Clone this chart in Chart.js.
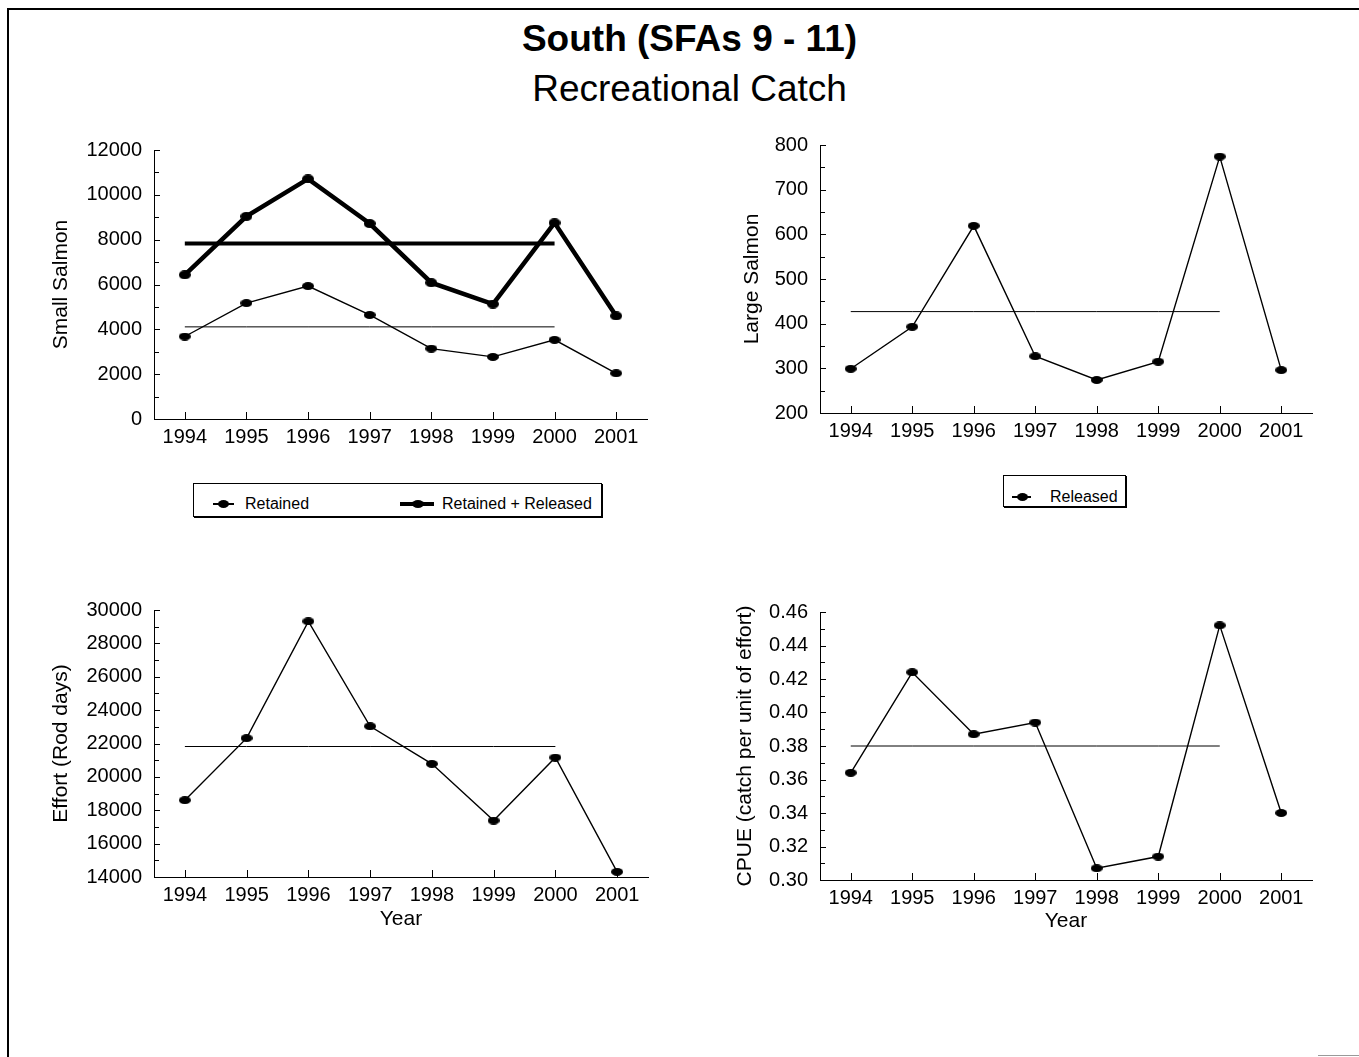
<!DOCTYPE html>
<html>
<head>
<meta charset="utf-8">
<title>South (SFAs 9 - 11) Recreational Catch</title>
<script src="https://cdn.jsdelivr.net/npm/chart.js@4.4.1/dist/chart.umd.min.js"></script>
<style>
  html, body { margin: 0; padding: 0; background: #fff; }
  body { width: 1359px; height: 1057px; position: relative; overflow: hidden;
         font-family: "Liberation Sans", Arial, sans-serif; color: #000; }
  .frame { position: absolute; left: 7px; top: 8px; right: -4px; bottom: -4px;
           border-left: 2px solid #000; border-top: 2px solid #000; }
  .corner { position: absolute; left: 1318px; top: 1055px; width: 41px; height: 1px; background: #999; }
  .head { position: absolute; left: 0; width: 1379px; text-align: center; font-size: 37px; line-height: 37px; white-space: nowrap; }
  .head.main { top: 20px; font-weight: bold; }
  .head.sub { top: 70px; }
  .panel { position: absolute; }
  .legend { position: absolute; box-sizing: border-box; border: 1px solid #000; box-shadow: 1px 1px 0 #000; background: #fff; }
  .legend .item { position: absolute; height: 0; }
  .legend .line { position: absolute; background: #000; }
  .legend .dot { position: absolute; background: #000; border-radius: 50%; }
  .legend .label { position: absolute; font-size: 16px; line-height: 16px; white-space: nowrap; transform: translateY(-50%); top: 0; }
</style>
</head>
<body>
<div class="frame"></div>
<div class="corner"></div>
<div class="head main">South (SFAs 9 - 11)</div>
<div class="head sub">Recreational Catch</div>

<canvas id="small" class="panel"></canvas>
<canvas id="large" class="panel"></canvas>
<canvas id="effort" class="panel"></canvas>
<canvas id="cpue" class="panel"></canvas>

<div class="legend" style="left:193px;top:483px;width:409px;height:34px;">
  <div class="item" style="left:0;top:20px;">
    <div class="line" style="left:19px;top:-0.7px;width:21px;height:1.4px;"></div>
    <div class="dot" style="left:24px;top:-4px;width:11px;height:8px;"></div>
    <div class="label" style="left:51px;">Retained</div>
  </div>
  <div class="item" style="left:0;top:20px;">
    <div class="line" style="left:206px;top:-2px;width:34px;height:4px;"></div>
    <div class="dot" style="left:218px;top:-4px;width:12px;height:8px;"></div>
    <div class="label" style="left:248px;">Retained + Released</div>
  </div>
</div>

<div class="legend" style="left:1003px;top:475px;width:123px;height:32px;">
  <div class="item" style="left:0;top:21px;">
    <div class="line" style="left:8px;top:-0.7px;width:19px;height:1.4px;"></div>
    <div class="dot" style="left:13px;top:-4px;width:11px;height:8px;"></div>
    <div class="label" style="left:46px;">Released</div>
  </div>
</div>

<script>
// ---- data ----------------------------------------------------------
const years = ['1994', '1995', '1996', '1997', '1998', '1999', '2000', '2001'];
const baselineYears = ['1994', '1995', '1996', '1997', '1998', '1999', '2000'];

const smallRetained = [3680, 5170, 5930, 4640, 3140, 2770, 3530, 2040];
const smallRetainedReleased = [6430, 9040, 10710, 8720, 6080, 5130, 8750, 4600];
const smallRetainedMean = 4110;
const smallRetainedReleasedMean = 7830;

const largeReleased = [299, 393, 619, 327, 274, 315, 774, 296];
const largeReleasedMean = 427;

const effortRodDays = [18600, 22320, 29320, 23030, 20780, 17380, 21160, 14310];
const effortMean = 21820;

const cpueValues = [0.364, 0.424, 0.387, 0.394, 0.307, 0.314, 0.452, 0.340];
const cpueMean = 0.380;

// ---- helpers -------------------------------------------------------
const FONT = '"Liberation Sans", Arial, sans-serif';
const YW = 140, PT = 20, PR = 20, XH = 60;

function meanRow(v) {
  return years.map(y => baselineYears.includes(y) ? v : null);
}

function dot(w, h) {
  const c = document.createElement('canvas');
  c.width = w; c.height = h;
  const g = c.getContext('2d');
  g.fillStyle = '#000';
  g.beginPath();
  g.ellipse(w / 2, h / 2, w / 2, h / 2, 0, 0, Math.PI * 2);
  g.fill();
  return c;
}
const thinDot = dot(12, 8);
const thickDot = dot(12, 9);

// tick marks pointing into the plot area, with a minor tick between majors
const inwardTicks = {
  id: 'inwardTicks',
  beforeDatasetsDraw(chart) {
    const { ctx, chartArea: a } = chart;
    const xs = chart.scales.x, ys = chart.scales.y;
    ctx.save();
    ctx.strokeStyle = '#000';
    ctx.lineWidth = 1;
    ctx.beginPath();
    ys.ticks.forEach((t, i) => {
      const py = Math.round(ys.getPixelForValue(t.value)) + 0.5;
      ctx.moveTo(a.left, py); ctx.lineTo(a.left + 6, py);
      if (i < ys.ticks.length - 1) {
        const mid = (t.value + ys.ticks[i + 1].value) / 2;
        const pm = Math.round(ys.getPixelForValue(mid)) + 0.5;
        ctx.moveTo(a.left, pm); ctx.lineTo(a.left + 5, pm);
      }
    });
    xs.ticks.forEach((t, i) => {
      const px = Math.round(xs.getPixelForTick(i)) + 0.5;
      ctx.moveTo(px, a.bottom); ctx.lineTo(px, a.bottom - 7);
    });
    ctx.stroke();
    ctx.restore();
  }
};

function seriesLine(data, thick) {
  return {
    data,
    borderColor: '#000',
    backgroundColor: '#000',
    borderWidth: thick ? 4.5 : 1.4,
    pointStyle: thick ? thickDot : thinDot,
    pointRadius: 5,
    tension: 0,
    fill: false
  };
}

function meanLine(v, thick) {
  return {
    data: meanRow(v),
    borderColor: '#000',
    borderWidth: thick ? 4 : 1,
    pointRadius: 0,
    tension: 0,
    fill: false
  };
}

function panel(id, area, y, datasets) {
  const canvas = document.getElementById(id);
  const w = YW + (area.right - area.left) + PR;
  const h = PT + (area.bottom - area.top) + XH;
  canvas.width = w; canvas.height = h;
  canvas.style.left = (area.left - YW) + 'px';
  canvas.style.top = (area.top - PT) + 'px';
  canvas.style.width = w + 'px';
  canvas.style.height = h + 'px';

  new Chart(canvas, {
    type: 'line',
    data: { labels: years, datasets },
    plugins: [inwardTicks],
    options: {
      responsive: false,
      animation: false,
      events: [],
      layout: { autoPadding: false, padding: { top: PT, right: PR, left: 0, bottom: 0 } },
      plugins: { legend: { display: false }, tooltip: { enabled: false } },
      scales: {
        x: {
          type: 'category',
          offset: true,
          grid: { display: false, drawTicks: false },
          border: { display: true, color: '#000', width: 1 },
          ticks: { color: '#000', font: { family: FONT, size: 20 }, padding: 6, maxRotation: 0, autoSkip: false },
          title: {
            display: !!area.xTitle,
            text: area.xTitle || '',
            color: '#000',
            font: { family: FONT, size: 21 },
            padding: { top: 0, bottom: area.xTitlePad || 0 }
          },
          afterFit: s => { s.height = XH; }
        },
        y: {
          min: y.min, max: y.max,
          grid: { display: false, drawTicks: false },
          border: { display: true, color: '#000', width: 1 },
          ticks: {
            stepSize: y.step,
            color: '#000',
            font: { family: FONT, size: 20 },
            padding: 12,
            callback: y.format || (v => String(v))
          },
          title: {
            display: true,
            text: y.title,
            color: '#000',
            font: { family: FONT, size: 21 },
            padding: { top: y.titlePad, bottom: 0 }
          },
          afterFit: s => { s.width = YW; }
        }
      }
    }
  });
}

// ---- panels --------------------------------------------------------
panel('small',
  { left: 154, top: 146, right: 647, bottom: 419 },
  { min: 0, max: 12000, step: 2000, title: 'Small Salmon', titlePad: 35 },
  [
    meanLine(smallRetainedReleasedMean, true),
    meanLine(smallRetainedMean, false),
    seriesLine(smallRetainedReleased, true),
    seriesLine(smallRetained, false)
  ]);

panel('large',
  { left: 820, top: 141, right: 1312, bottom: 413 },
  { min: 200, max: 800, step: 100, title: 'Large Salmon', titlePad: 60 },
  [
    meanLine(largeReleasedMean, false),
    seriesLine(largeReleased, false)
  ]);

panel('effort',
  { left: 154, top: 606, right: 648, bottom: 877, xTitle: 'Year', xTitlePad: 5 },
  { min: 14000, max: 30000, step: 2000, title: 'Effort (Rod days)', titlePad: 35 },
  [
    meanLine(effortMean, false),
    seriesLine(effortRodDays, false)
  ]);

panel('cpue',
  { left: 820, top: 608, right: 1312, bottom: 880, xTitle: 'Year', xTitlePad: 6 },
  { min: 0.30, max: 0.46, step: 0.02, title: 'CPUE (catch per unit of effort)', titlePad: 53,
    format: v => Number(v).toFixed(2) },
  [
    meanLine(cpueMean, false),
    seriesLine(cpueValues, false)
  ]);
</script>
</body>
</html>
